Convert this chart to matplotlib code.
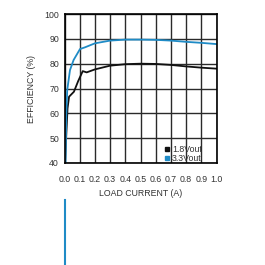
import matplotlib.pyplot as plt
from matplotlib.lines import Line2D

plt.rcParams['font.family'] = ['Liberation Sans', 'DejaVu Sans']

# Curvas de eficiencia
i_18 = [0.003, 0.02, 0.03, 0.062, 0.09, 0.12, 0.146, 0.2, 0.3, 0.4, 0.5, 0.6, 0.7, 0.8, 0.9, 1.0]
ef_18 = [40, 62, 66.7, 68.7, 73, 77, 76.5, 77.7, 79.2, 79.8, 80.0, 79.9, 79.5, 78.9, 78.4, 78.0]

i_33 = [0.007, 0.012, 0.018, 0.036, 0.06, 0.102, 0.135, 0.2, 0.3, 0.4, 0.5, 0.6, 0.7, 0.8, 0.9, 1.0]
ef_33 = [40, 60, 69.4, 77.4, 81.5, 85.9, 86.6, 88.2, 89.3, 89.7, 89.7, 89.6, 89.3, 88.8, 88.4, 87.9]

# trozo suelto de la curva azul que se ve bajo el grafico
cola_x = [0.0, 0.0]
cola_y = [25, -5]

xticks = [0.0, 0.1, 0.2, 0.3, 0.4, 0.5, 0.6, 0.7, 0.8, 0.9, 1.0]
yticks = [40, 50, 60, 70, 80, 90, 100]

azul = '#1f8bc6'
negro = '#111111'

fig = plt.figure(figsize=(2.65, 2.65), dpi=100)
ax = fig.add_axes([0.2434, 0.385, 0.5736, 0.562])

ax.plot(i_18, ef_18, color=negro, lw=1.3)
ax.plot(i_33, ef_33, color=azul, lw=1.3)
ax.plot(cola_x, cola_y, color=azul, lw=1.5, clip_on=False)

ax.set_xlim(0, 1.0)
ax.set_ylim(40, 100)
ax.set_xticks(xticks)
ax.set_yticks(yticks)
ax.set_xticklabels([f'{t:.1f}' for t in xticks])
ax.grid(color='#2a2a2a', lw=1.0)
ax.tick_params(length=0, labelsize=6.3, colors='#333333', pad=4)
ax.tick_params(axis='x', pad=9)
for s in ax.spines.values():
    s.set_linewidth(1.2)
    s.set_color('black')

ax.set_xlabel('LOAD CURRENT (A)', fontsize=6.3, color='#333333', labelpad=3)
ax.set_ylabel('EFFICIENCY (%)', fontsize=6.3, color='#333333', labelpad=6)

handles = [Line2D([], [], marker='s', ls='', color=negro, markersize=3.5),
           Line2D([], [], marker='s', ls='', color=azul, markersize=3.5)]
ax.legend(handles, ['1.8Vout', '3.3Vout'], loc='lower left', bbox_to_anchor=(0.62, -0.04),
          frameon=False, fontsize=6.3, handlelength=0.6, handletextpad=0.2,
          labelspacing=0.0, borderpad=0.2, labelcolor='#333333')

fig.savefig('out.png')
